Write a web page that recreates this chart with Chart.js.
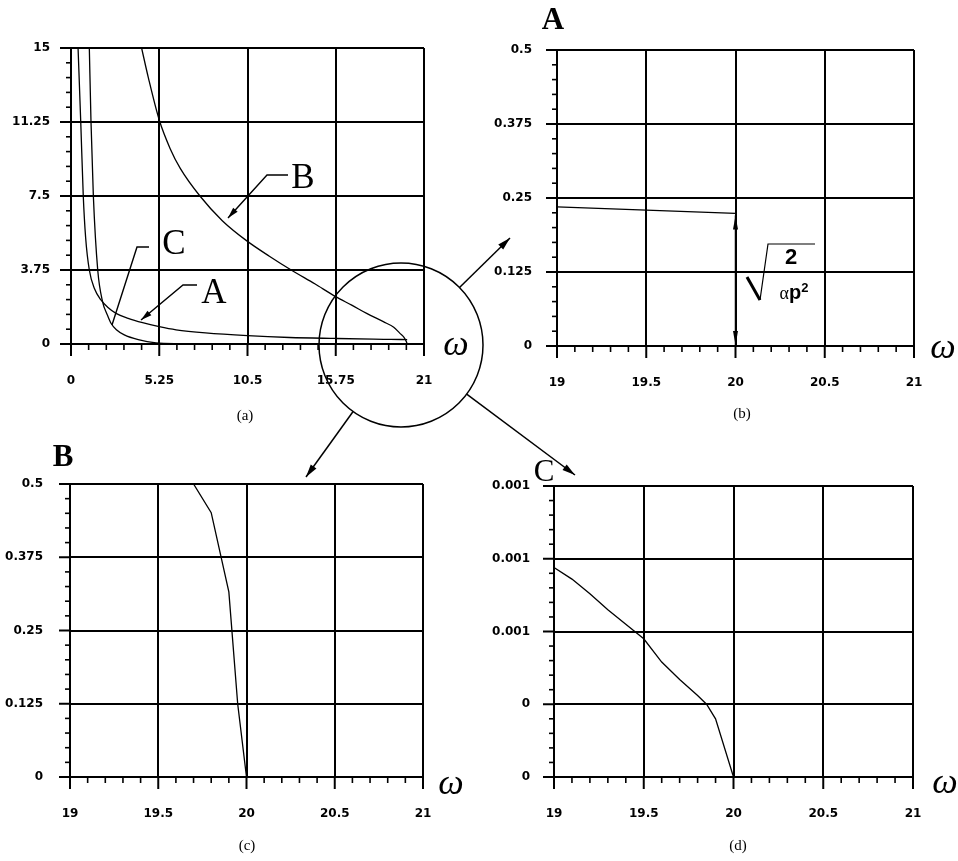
<!DOCTYPE html>
<html>
<head>
<meta charset="utf-8">
<script src="https://cdn.jsdelivr.net/npm/chart.js@4.4.1/dist/chart.umd.min.js"></script>
<style>
html, body { margin: 0; padding: 0; background: #fff; }
#page { position: relative; width: 958px; height: 861px; overflow: hidden; }
canvas { position: absolute; }
.t { position: absolute; transform: translate(-50%, -50%); line-height: 1; white-space: nowrap; color: #000; }
.cap { font: 15px 'Liberation Serif', serif; }
.om { font: italic 36px 'Liberation Serif', serif; }
.lt { font: 35px 'Liberation Serif', serif; }
.lb { font: bold 31px 'Liberation Serif', serif; }
</style>
</head>
<body>
<div id="page">
    <canvas id="pa"></canvas>
    <canvas id="pb"></canvas>
    <canvas id="pc"></canvas>
    <canvas id="pd"></canvas>
    <canvas id="overlay" width="958" height="861" style="left:0;top:0"></canvas>

    <div class="t om" style="left:456px;top:343px">ω</div>
    <div class="t om" style="left:943px;top:346px">ω</div>
    <div class="t om" style="left:451px;top:782px">ω</div>
    <div class="t om" style="left:945px;top:781px">ω</div>

    <div class="t cap" style="left:245px;top:415px">(a)</div>
    <div class="t cap" style="left:742px;top:413px">(b)</div>
    <div class="t cap" style="left:247px;top:845px">(c)</div>
    <div class="t cap" style="left:738px;top:845px">(d)</div>

    <div class="t lt" style="left:214px;top:292px">A</div>
    <div class="t lt" style="left:303px;top:177px">B</div>
    <div class="t lt" style="left:174px;top:243px">C</div>
    <div class="t lb" style="left:553px;top:19px">A</div>
    <div class="t lb" style="left:63px;top:456px">B</div>
    <div class="t lt" style="left:544px;top:471px;font-size:31px">C</div>

    <div class="t" style="left:791px;top:257px;font:bold 22px 'Liberation Sans',sans-serif">2</div>
    <div class="t" style="left:794px;top:292px;font:bold 20px 'Liberation Sans',sans-serif"><span style="font:18px 'Liberation Serif',serif">α</span>p<span style="font-size:13px;vertical-align:7px">2</span></div>
</div>

<script>
// panel (a): full range
const aX = [0.42, 0.58, 0.73, 0.87, 1.09, 1.4, 1.78, 2.2, 2.68, 3.4, 4.26, 5.25, 6.25, 8, 10.5, 13, 15.75, 18, 19, 20];
const aA = [15, 11.25, 7.5, 5.4, 3.75, 2.8, 2.23, 1.85, 1.55, 1.3, 1.08, 0.88, 0.72, 0.56, 0.42, 0.33, 0.28, 0.245, 0.235, 0.224];

const cX = [1.09, 1.19, 1.33, 1.59, 1.88, 2.15, 2.38, 2.7, 3.17, 4, 5.06, 6.5, 8, 10.5, 15, 20];
const cC = [15, 11.25, 7.5, 3.75, 2.14, 1.5, 1.05, 0.72, 0.46, 0.22, 0.06, 0.02, 0.01, 0.005, 0.001, 0];

const bX = [4.2, 4.6, 5.25, 5.9, 6.5, 7.67, 9, 10.5, 11.8, 13.1, 14.5, 15.75, 16.7, 17.59, 18.58, 19.2, 19.57, 19.8, 19.95, 20];
const bB = [15, 13.5, 11.35, 9.9, 8.9, 7.5, 6.25, 5.2, 4.45, 3.75, 3.05, 2.4, 1.97, 1.55, 1.13, 0.85, 0.54, 0.35, 0.12, 0];

// zoomed panels near omega = 20
const zoomAX = [19, 19.5, 20];
const zoomA = [0.235, 0.2295, 0.224];

const zoomBX = [19.7, 19.8, 19.9, 19.95, 20];
const zoomB = [0.5, 0.451, 0.316, 0.125, 0];

const zoomCX = [19, 19.1, 19.2, 19.3, 19.4, 19.5, 19.6, 19.7, 19.8, 19.85, 19.9, 20];
const zoomC = [0.00072, 0.00068, 0.00063, 0.000575, 0.000525, 0.000475, 0.000395, 0.000335, 0.00028, 0.00025, 0.0002, 0];

// tick labels (major ticks)
const aXLabels = ['0', '5.25', '10.5', '15.75', '21'];
const aYLabels = ['0', '3.75', '7.5', '11.25', '15'];
const zoomXLabels = ['19', '19.5', '20', '20.5', '21'];
const bcYLabels = ['0', '0.125', '0.25', '0.375', '0.5'];
const dYLabels = ['0', '0', '0.001', '0.001', '0.001'];

function pts(xs, ys) {
    return xs.map((x, i) => ({ x: x, y: ys[i] }));
}

// grid every 5th tick, small ticks in between
const tickMarks = {
    id: 'tickMarks',
    afterDraw(chart) {
        const ctx = chart.ctx;
        const a = chart.chartArea;
        const sx = chart.scales.x, sy = chart.scales.y;
        ctx.save();
        ctx.strokeStyle = '#000';
        sx.ticks.forEach((t, i) => {
            const p = sx.getPixelForValue(t.value);
            const major = i % 5 === 0;
            ctx.lineWidth = major ? 2 : 1.6;
            ctx.beginPath();
            ctx.moveTo(p, a.bottom);
            ctx.lineTo(p, a.bottom + (major ? 12 : 6));
            ctx.stroke();
        });
        sy.ticks.forEach((t, i) => {
            const p = sy.getPixelForValue(t.value);
            const major = i % 5 === 0;
            ctx.lineWidth = major ? 2 : 1.6;
            ctx.beginPath();
            ctx.moveTo(a.left, p);
            ctx.lineTo(a.left - (major ? 11 : 5), p);
            ctx.stroke();
        });
        ctx.restore();
    }
};

function arrowHead(ctx, x0, y0, x1, y1, len, half) {
    const ang = Math.atan2(y1 - y0, x1 - x0);
    ctx.beginPath();
    ctx.moveTo(x1, y1);
    ctx.lineTo(x1 - len * Math.cos(ang) + half * Math.sin(ang), y1 - len * Math.sin(ang) - half * Math.cos(ang));
    ctx.lineTo(x1 - len * Math.cos(ang) - half * Math.sin(ang), y1 - len * Math.sin(ang) + half * Math.cos(ang));
    ctx.closePath();
    ctx.fill();
}

// double arrow under the end of A in panel (b)
const sqrtArrow = {
    id: 'sqrtArrow',
    afterDraw(chart) {
        const ctx = chart.ctx;
        const sx = chart.scales.x, sy = chart.scales.y;
        const x = sx.getPixelForValue(zoomAX[zoomAX.length - 1]);
        const yTop = sy.getPixelForValue(zoomA[zoomA.length - 1]) + 2;
        const yBot = sy.getPixelForValue(0) - 1;
        ctx.save();
        ctx.fillStyle = '#000';
        ctx.strokeStyle = '#000';
        ctx.lineWidth = 1.5;
        ctx.beginPath();
        ctx.moveTo(x, yTop);
        ctx.lineTo(x, yBot);
        ctx.stroke();
        arrowHead(ctx, x, yTop + 20, x, yTop, 14, 2.5);
        arrowHead(ctx, x, yBot - 20, x, yBot, 14, 2.5);
        ctx.restore();
    }
};

// right padding must exceed the x labels' own padding, or chart.js shrinks the area
const PADL = 80, PADT = 50, PADR = 50, PADB = 64;

function makePanel(id, area, xs, ys, datasets, extraPlugins) {
    const cv = document.getElementById(id);
    cv.width = Math.round(area.r - area.l) + PADL + PADR;
    cv.height = Math.round(area.b - area.t) + PADT + PADB;
    cv.style.left = (area.l - PADL) + 'px';
    cv.style.top = (area.t - PADT) + 'px';
    const tickFont = { family: 'DejaVu Sans', weight: 'bold', size: 12 };
    const majorGrid = c => (c.index % 5 === 0 ? '#000' : 'rgba(0,0,0,0)');
    return new Chart(cv, {
        type: 'scatter',
        data: { datasets: datasets },
        options: {
            responsive: false,
            animation: false,
            layout: { padding: { top: PADT, right: PADR, left: 0, bottom: 0 } },
            plugins: { legend: { display: false }, tooltip: { enabled: false } },
            scales: {
                x: {
                    type: 'linear',
                    min: xs.min, max: xs.max,
                    afterFit: s => { s.height = PADB; },
                    border: { display: false },
                    grid: { color: majorGrid, lineWidth: 2, drawTicks: false },
                    ticks: {
                        stepSize: xs.step, autoSkip: false, maxRotation: 0,
                        padding: 30, color: '#000', font: tickFont,
                        callback: (v, i) => (i % 5 === 0 ? xs.labels[i / 5] : '')
                    }
                },
                y: {
                    type: 'linear',
                    min: ys.min, max: ys.max,
                    afterFit: s => { s.width = PADL; },
                    border: { display: false },
                    grid: { color: majorGrid, lineWidth: 2, drawTicks: false },
                    ticks: {
                        stepSize: ys.step, autoSkip: false,
                        padding: ys.pad, color: '#000', font: tickFont,
                        callback: (v, i) => (i % 5 === 0 ? ys.labels[i / 5] : '')
                    }
                }
            }
        },
        plugins: [tickMarks].concat(extraPlugins || [])
    });
}

function curve(data, smooth) {
    return {
        data: data,
        showLine: true,
        borderColor: '#000',
        borderWidth: 1.3,
        pointRadius: 0,
        fill: false,
        tension: smooth ? 0.4 : 0,
        cubicInterpolationMode: smooth ? 'monotone' : 'default'
    };
}

makePanel('pa', { l: 71, t: 48, r: 424, b: 344 },
    { min: 0, max: 21, step: 1.05, labels: aXLabels },
    { min: 0, max: 15, step: 0.75, labels: aYLabels, pad: 21 },
    [curve(pts(aX, aA), true), curve(pts(bX, bB), true), curve(pts(cX, cC), true)]);

makePanel('pb', { l: 557, t: 50, r: 914, b: 346 },
    { min: 19, max: 21, step: 0.1, labels: zoomXLabels },
    { min: 0, max: 0.5, step: 0.025, labels: bcYLabels, pad: 25 },
    [curve(pts(zoomAX, zoomA), false)], [sqrtArrow]);

makePanel('pc', { l: 70, t: 484, r: 423, b: 777 },
    { min: 19, max: 21, step: 0.1, labels: zoomXLabels },
    { min: 0, max: 0.5, step: 0.025, labels: bcYLabels, pad: 27 },
    [curve(pts(zoomBX, zoomB), false)]);

makePanel('pd', { l: 554, t: 486, r: 913, b: 777 },
    { min: 19, max: 21, step: 0.1, labels: zoomXLabels },
    { min: 0, max: 0.001, step: 0.00005, labels: dYLabels, pad: 24 },
    [curve(pts(zoomCX, zoomC), false)]);

// magnifier circle, arrows, leader lines, radical sign
const ov = document.getElementById('overlay').getContext('2d');
ov.strokeStyle = '#000';
ov.fillStyle = '#000';
ov.lineWidth = 1.5;

const cx = 401, cy = 345, cr = 82;
ov.beginPath();
ov.arc(cx, cy, cr, 0, Math.PI * 2);
ov.stroke();

[[510, 238], [306, 477], [575, 475]].forEach(([tx, ty]) => {
    const d = Math.hypot(tx - cx, ty - cy);
    const sx = cx + (tx - cx) / d * cr, sy = cy + (ty - cy) / d * cr;
    ov.beginPath();
    ov.moveTo(sx, sy);
    ov.lineTo(tx, ty);
    ov.stroke();
    arrowHead(ov, sx, sy, tx, ty, 13, 3.5);
});

function leader(pts, head) {
    ov.beginPath();
    ov.moveTo(pts[0][0], pts[0][1]);
    pts.slice(1).forEach(p => ov.lineTo(p[0], p[1]));
    ov.stroke();
    if (head) {
        const n = pts.length;
        arrowHead(ov, pts[n - 2][0], pts[n - 2][1], pts[n - 1][0], pts[n - 1][1], 11, 3);
    }
}
ov.lineWidth = 1.4;
leader([[288, 175], [267, 175], [228, 218]], true);
leader([[197, 285], [183, 285], [141, 320]], true);
leader([[149, 247], [137, 247], [112, 325]], false);

ov.lineWidth = 3;
ov.beginPath();
ov.moveTo(747, 277);
ov.lineTo(760, 300);
ov.stroke();
ov.lineWidth = 1.2;
ov.beginPath();
ov.moveTo(760, 300);
ov.lineTo(768, 244);
ov.lineTo(815, 244);
ov.stroke();
</script>
</body>
</html>
